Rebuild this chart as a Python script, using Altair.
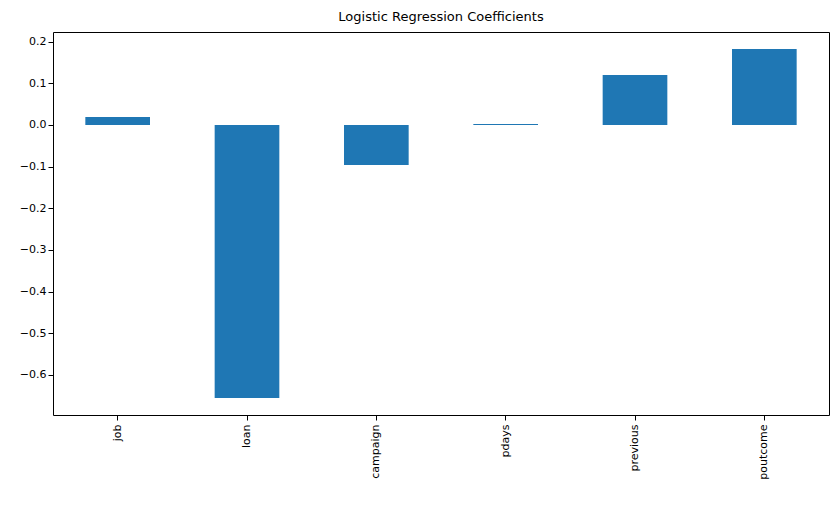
import altair as alt
import pandas as pd

features = ['job', 'loan', 'campaign', 'pdays', 'previous', 'poutcome']
coefs = [0.019, -0.655, -0.096, 0.002, 0.12, 0.182]

df = pd.DataFrame({'feature': features, 'coef': coefs})

chart = alt.Chart(df).mark_bar(color='#1f77b4').encode(
    x=alt.X('feature:N', sort=features, title=None,
            scale=alt.Scale(paddingInner=0.5, paddingOuter=0.25),
            axis=alt.Axis(labelAngle=270, labelAlign='right', labelBaseline='middle',
                          labelFontSize=11, labelColor='black', tickColor='black',
                          domain=False, labelPadding=4)),
    y=alt.Y('coef:Q', title=None,
            scale=alt.Scale(domain=[-0.696, 0.223], nice=False, zero=False),
            axis=alt.Axis(values=[-0.6, -0.5, -0.4, -0.3, -0.2, -0.1, 0.0, 0.1, 0.2],
                          format='.1f', grid=False, domain=False, labelFontSize=11,
                          labelColor='black', tickColor='black')),
).properties(
    width=776, height=383,
    title=alt.Title('Logistic Regression Coefficients', fontSize=13, fontWeight='normal',
                    font='DejaVu Sans', offset=8),
    autosize=alt.AutoSizeParams(type='none'),
    padding={'left': 45, 'top': 24, 'right': 1, 'bottom': 80},
).configure(font='DejaVu Sans').configure_view(stroke='black', strokeWidth=1)

chart.save("out.html", embed_options={"renderer": "svg", "actions": False})
